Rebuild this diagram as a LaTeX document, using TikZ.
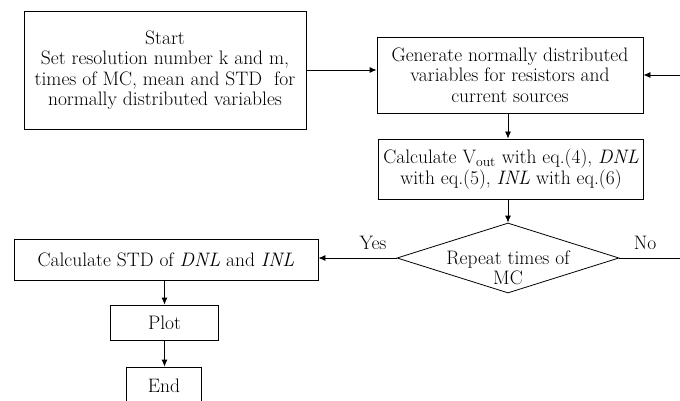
\documentclass[tikz,border=0pt]{standalone}
\usetikzlibrary{shapes.geometric,arrows.meta}
\begin{document}
\begin{tikzpicture}[x=1pt,y=-1pt,
  every node/.style={font=\fontsize{19.5}{20.5}\selectfont},
  box/.style={draw,line width=0.8pt,align=center,inner sep=0pt},
  conn/.style={line width=0.8pt,-{Latex[length=7pt,width=6pt]}},
  plainline/.style={line width=0.8pt}]
\clip (0,0) rectangle (680,401);
\node[box,minimum width=282,minimum height=118] (start) at (165,70)
  {Start\\Set resolution number k and m,\\times of MC, mean and STD\ \ for\\normally distributed variables};
\node[box,minimum width=266,minimum height=76] (gen) at (510,75)
  {Generate normally distributed\\variables for resistors and\\current sources};
\node[box,minimum width=265,minimum height=60] (calc) at (511,169)
  {Calculate V\textsubscript{out} with eq.(4), \textit{DNL}\\with eq.(5), \textit{INL} with eq.(6)};
\node[diamond,draw,line width=0.8pt,minimum width=222,minimum height=70,inner sep=0pt] (rep) at (508,258) {};
\node[align=center,inner sep=0pt] (reptext) at (508,268) {Repeat times of\\MC};
\node[box,minimum width=304,minimum height=41] (std) at (166,259.5)
  {Calculate STD of \textit{DNL} and \textit{INL}};
\node[box,minimum width=108,minimum height=35] (plot) at (164.5,322.5) {Plot};
\node[box,minimum width=75,minimum height=37] (end) at (164,385.5) {End};
\node[inner sep=0pt] (yes) at (373,243) {Yes};
\node[inner sep=0pt] (no) at (645,243) {No};
\coordinate (loop) at (700,75);
\coordinate (loopb) at (700,258);
\draw[conn] (start.east |- 0,70) -- (gen.west |- 0,70);
\draw[conn] (gen.south -| 508,0) -- (calc.north -| 508,0);
\draw[conn] (calc.south -| 508,0) -- (rep.north);
\draw[conn] (rep.west) -- (std.east |- rep.west);
\draw[conn] (std.south -| plot.north) -- (plot.north);
\draw[conn] (plot.south) -- (end.north -| plot.south);
\draw[plainline] (rep.east) -- (loopb) -- (loop);
\draw[conn] (loop) -- (gen.east);
\end{tikzpicture}
\end{document}
